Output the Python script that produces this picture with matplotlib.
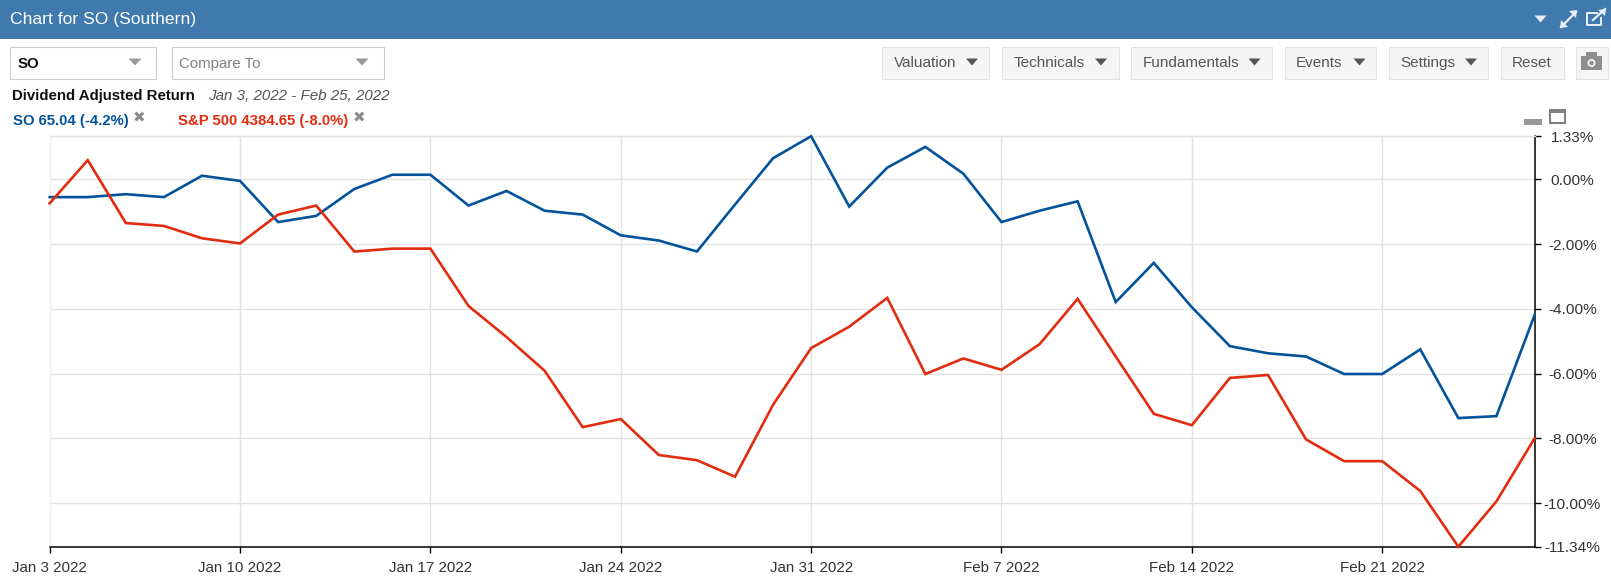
import matplotlib
matplotlib.use("Agg")
import matplotlib.pyplot as plt
from matplotlib.patches import Rectangle, Polygon, Circle

plt.rcParams["font.family"] = ["Liberation Sans", "DejaVu Sans"]

W, H = 1611, 582

# Values, percent return per trading day
so_values = [-0.55, -0.55, -0.46, -0.55, 0.11, -0.05, -1.32, -1.13, -0.30, 0.14,
             0.14, -0.81, -0.36, -0.97, -1.09, -1.73, -1.89, -2.23, -0.78, 0.65,
             1.33, -0.84, 0.36, 1.00, 0.17, -1.32, -0.97, -0.68, -3.79, -2.58,
             -3.95, -5.15, -5.37, -5.47, -6.01, -6.01, -5.25, -7.37, -7.31, -4.20]
sp_values = [-0.74, 0.59, -1.35, -1.44, -1.82, -1.98, -1.09, -0.81, -2.23, -2.14,
             -2.14, -3.91, -4.87, -5.91, -7.65, -7.40, -8.51, -8.67, -9.18, -6.96,
             -5.21, -4.55, -3.66, -6.01, -5.53, -5.88, -5.09, -3.69, -5.47, -7.24,
             -7.59, -6.13, -6.04, -8.03, -8.70, -8.70, -9.62, -11.34, -9.94, -8.00]
x_tick_pos = [0, 5, 10, 15, 20, 25, 30, 35]
x_tick_labels = ["Jan 3 2022", "Jan 10 2022", "Jan 17 2022", "Jan 24 2022",
                 "Jan 31 2022", "Feb 7 2022", "Feb 14 2022", "Feb 21 2022"]
y_ticks = [1.33, 0, -2, -4, -6, -8, -10, -11.34]
y_tick_labels = ["1.33%", "0.00%", "-2.00%", "-4.00%", "-6.00%", "-8.00%", "-10.00%", "-11.34%"]
buttons = ["Valuation", "Technicals", "Fundamentals", "Events", "Settings"]
button_left = [881, 1001, 1130, 1284, 1388]
button_right = [989, 1119, 1272, 1376, 1488]
button_text = [893.5, 1014, 1142.5, 1296, 1400]
button_tri = [972, 1101, 1254.5, 1359.5, 1471]

BLUE = "#03539b"
RED = "#e12c10"
GRID = "#e2e2e2"
TEXT = "#555555"

fig = plt.figure(figsize=(W / 100, H / 100), dpi=100)

# Overlay in pixel coordinates for the page furniture around the chart
ui = fig.add_axes([0, 0, 1, 1])
ui.set_xlim(0, W)
ui.set_ylim(H, 0)
ui.axis("off")


def px(size):
    return size * 0.72


def tri(cx, cy, w, h, color):
    ui.add_patch(Polygon([(cx - w / 2, cy - h / 2), (cx + w / 2, cy - h / 2), (cx, cy + h / 2)],
                         facecolor=color, edgecolor="none"))


def box(x0, y0, x1, y1, face, edge):
    ui.add_patch(Rectangle((x0 + 0.5, y0 + 0.5), x1 - x0 - 1, y1 - y0 - 1,
                           facecolor=face, edgecolor=edge, linewidth=0.8))


# Header bar
ui.add_patch(Rectangle((0, 0), W, 39, facecolor="#3f79ad", edgecolor="none"))
ui.text(10, 24, "Chart for SO (Southern)", color="white", fontsize=px(17.5), va="baseline")
tri(1540.5, 19, 12, 7, "#e8eff6")
ui.plot([1561, 1576], [27, 12], color="#e8eff6", lw=1.6)
tri_pts = [[(1577, 10), (1569, 11), (1576, 18)], [(1560, 28), (1568, 27), (1561, 20)]]
for pts in tri_pts:
    ui.add_patch(Polygon(pts, facecolor="#e8eff6", edgecolor="none"))
ui.plot([1597, 1587, 1587, 1601, 1601], [13, 13, 25, 25, 18], color="#e8eff6", lw=1.4)
ui.plot([1593, 1605], [20, 9], color="#e8eff6", lw=1.6)
ui.add_patch(Polygon([(1606, 9), (1598, 10), (1605, 16)], facecolor="#e8eff6", edgecolor="none"))

# Ticker boxes
box(9, 46, 156, 79, "white", "#cccccc")
ui.text(18, 68, "SO", color="#111111", fontsize=px(15), fontweight="bold", va="baseline")
tri(135, 62, 13, 7, "#999999")
box(171, 46, 384, 79, "white", "#cccccc")
ui.text(179, 68, "Compare To", color="#808080", fontsize=px(15), va="baseline")
tri(362, 62, 13, 7, "#999999")

# Toolbar buttons
for name, x0, x1, xt, xtri in zip(buttons, button_left, button_right, button_text, button_tri):
    box(x0, 46, x1, 79, "#f5f5f5", "#e3e3e3")
    ui.text(xt, 67, name, color=TEXT, fontsize=px(15.2), va="baseline")
    tri(xtri, 62, 12, 7, "#555555")
box(1500, 46, 1564, 79, "#f5f5f5", "#e3e3e3")
ui.text(1512, 67, "Reset", color=TEXT, fontsize=px(15.2), va="baseline")
box(1575, 46, 1608, 79, "#f5f5f5", "#e3e3e3")
ui.add_patch(Rectangle((1581, 56), 21, 14, facecolor="#8f8f8f", edgecolor="none"))
ui.add_patch(Rectangle((1586, 52), 11, 5, facecolor="#8f8f8f", edgecolor="none"))
ui.add_patch(Circle((1591.5, 63), 4, facecolor="#f5f5f5", edgecolor="none"))
ui.add_patch(Circle((1591.5, 63), 2.2, facecolor="#8f8f8f", edgecolor="none"))

# Subtitle and legend
ui.text(12, 100, "Dividend Adjusted Return", color="#111111", fontsize=px(15), fontweight="bold", va="baseline")
ui.text(208, 100, "Jan 3, 2022 - Feb 25, 2022", color=TEXT, fontsize=px(15.1), style="italic", va="baseline")
ui.text(13, 125, "SO 65.04 (-4.2%)", color=BLUE, fontsize=px(14.9), fontweight="bold", va="baseline")
ui.text(139, 117.5, "✖", color="#8c8c8c", fontsize=px(15), ha="center", va="center", family="DejaVu Sans")
ui.text(178, 125, "S&P 500 4384.65 (-8.0%)", color=RED, fontsize=px(14.9), fontweight="bold", va="baseline")
ui.text(359, 117.5, "✖", color="#8c8c8c", fontsize=px(15), ha="center", va="center", family="DejaVu Sans")

# Window icons above the y axis
ui.add_patch(Rectangle((1524, 119), 18, 6, facecolor="#999999", edgecolor="none"))
ui.add_patch(Rectangle((1550, 110), 15, 13, facecolor="white", edgecolor="#808080", linewidth=1.5))
ui.add_patch(Rectangle((1549, 109), 17, 4, facecolor="#808080", edgecolor="none"))

# Main chart
left, right, top, bottom = 49.7, 1534.5, 136.2, 546.7
ax = fig.add_axes([left / W, 1 - bottom / H, (right - left) / W, (bottom - top) / H])
ax.patch.set_alpha(0)
days = list(range(len(so_values)))
ax.plot(days, so_values, color=BLUE, lw=1.9, clip_on=False, solid_joinstyle="miter", zorder=3)
ax.plot(days, sp_values, color=RED, lw=1.9, clip_on=False, solid_joinstyle="miter", zorder=4)
ax.set_xlim(0, len(days) - 1)
ax.set_ylim(-11.34, 1.33)

ax.set_xticks(x_tick_pos)
ax.set_xticklabels(x_tick_labels, color="#333333", fontsize=px(15.1))
ax.yaxis.tick_right()
ax.set_yticks(y_ticks)
ax.set_yticklabels(y_tick_labels, color="#333333", fontsize=px(15.4), ha="center")
ax.tick_params(axis="x", length=px(6), width=1, color="black", pad=px(8))
ax.tick_params(axis="y", length=px(6), width=1, color="black", pad=px(32))
ax.grid(True, color=GRID, linewidth=1.0, zorder=0)
ax.set_axisbelow(True)

ax.spines["top"].set_color(GRID)
ax.spines["top"].set_linewidth(1.0)
ax.spines["left"].set_color("#eeeeee")
ax.spines["left"].set_linewidth(0.8)
ax.spines["right"].set_color("black")
ax.spines["right"].set_linewidth(1.1)
ax.spines["bottom"].set_color("black")
ax.spines["bottom"].set_linewidth(1.1)

fig.savefig("out.png", dpi=100)
